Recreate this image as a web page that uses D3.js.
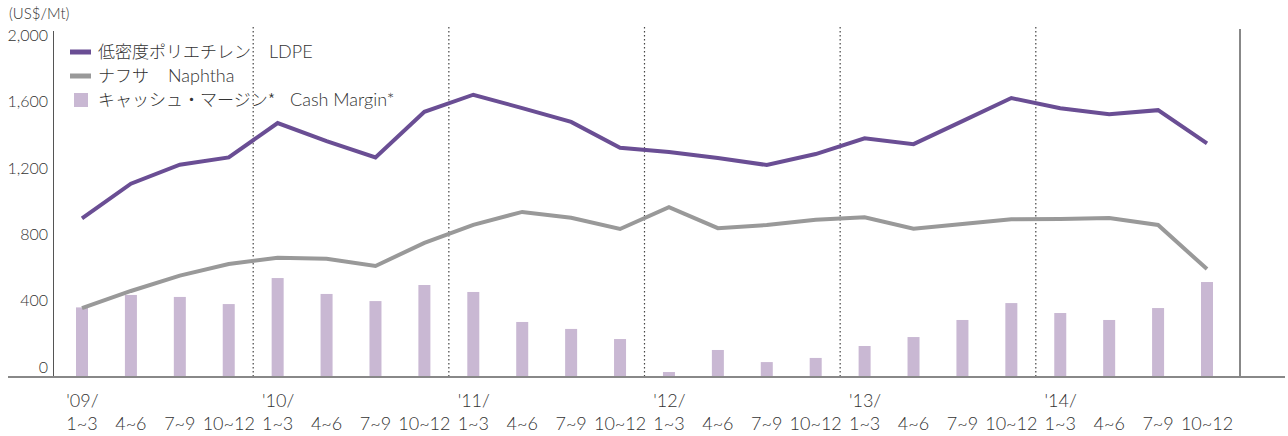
<!DOCTYPE html>
<html>
<head>
<meta charset="utf-8">
<script src="https://cdn.jsdelivr.net/npm/d3@7"></script>
<style>
  body { margin: 0; background: #fff; }
  svg { display: block; }
  text { font-weight: 300; }
</style>
</head>
<body>
<div id="chart"></div>
<script>
"use strict";

// Data
var years = ["'09/", "'10/", "'11/", "'12/", "'13/", "'14/"];
var quarters = ["1~3", "4~6", "7~9", "10~12"];
var ldpe = [957, 1166, 1281, 1325, 1532, 1423, 1325, 1600, 1703, 1622, 1539, 1383,
            1357, 1321, 1279, 1345, 1440, 1405, 1544, 1683, 1622, 1586, 1610, 1410];
var naphtha = [415, 519, 612, 682, 720, 713, 670, 809, 918, 996, 961, 893,
               1024, 898, 917, 949, 964, 894, 923, 952, 953, 959, 917, 651];
var margin = [420, 495, 483, 440, 597, 501, 458, 555, 513, 332, 290, 229,
              30, 163, 90, 115, 187, 241, 344, 446, 386, 344, 416, 573];
var yTicks = [0, 400, 800, 1200, 1600, 2000];

var ldpeColor = "#6a4e94";
var naphthaColor = "#999999";
var marginColor = "#c9b8d3";
var textColor = "#333";
var font = "Lato, 'Noto Sans CJK JP', sans-serif";
var jpFont = "'Noto Sans CJK JP', sans-serif";

// categories: one per quarter
var cats = [];
years.forEach(function(y, yi) {
  quarters.forEach(function(q, qi) { cats.push(yi * 4 + qi); });
});

let svg = d3.select("#chart").append("svg")
  .attr("width", 1288)
  .attr("height", 436);

var x = d3.scalePoint().domain(cats).range([82, 1207]);
var y = d3.scaleLinear().domain([0, 2000]).range([377, 45.5]);
var step = x.step();

// Bars
svg.append("g").selectAll("rect")
  .data(margin)
  .enter().append("rect")
  .attr("x", function(d, i) { return x(i) - 6; })
  .attr("y", function(d) { return y(d); })
  .attr("width", 12)
  .attr("height", function(d) { return y(0) - y(d); })
  .style("fill", marginColor);

// Dotted year separators
svg.append("g").selectAll("line")
  .data([4, 8, 12, 16, 20])
  .enter().append("line")
  .attr("x1", function(d) { return x(d) - step / 2; })
  .attr("x2", function(d) { return x(d) - step / 2; })
  .attr("y1", 27)
  .attr("y2", 377)
  .attr("stroke", "#444")
  .attr("stroke-width", 1.2)
  .attr("stroke-dasharray", "1.5,2.5");

// Lines
var line = d3.line()
  .x(function(d, i) { return x(i); })
  .y(function(d) { return y(d); });

svg.append("path")
  .datum(naphtha)
  .attr("d", line)
  .attr("fill", "none")
  .attr("stroke", naphthaColor)
  .attr("stroke-width", 4)
  .attr("stroke-linejoin", "miter");

svg.append("path")
  .datum(ldpe)
  .attr("d", line)
  .attr("fill", "none")
  .attr("stroke", ldpeColor)
  .attr("stroke-width", 4)
  .attr("stroke-linejoin", "miter");

// Axis lines
svg.append("line")
  .attr("x1", 53.5).attr("x2", 53.5)
  .attr("y1", 31).attr("y2", 377)
  .attr("stroke", "#555")
  .attr("stroke-width", 1);

svg.append("line")
  .attr("x1", 1240).attr("x2", 1240)
  .attr("y1", 29).attr("y2", 377)
  .attr("stroke", "#888")
  .attr("stroke-width", 2);

svg.append("line")
  .attr("x1", 8).attr("x2", 1285)
  .attr("y1", 377).attr("y2", 377)
  .attr("stroke", "#888")
  .attr("stroke-width", 2);

// Y tick labels (sit just above their value)
let yAxis = svg.append("g")
  .attr("transform", "translate(48,-10)")
  .call(d3.axisLeft(y).tickValues(yTicks).tickSize(0).tickPadding(0)
    .tickFormat(d3.format(",")));
yAxis.select(".domain").remove();
yAxis.selectAll("text")
  .attr("font-family", font)
  .attr("font-size", "16px")
  .attr("fill", textColor);

// Unit
svg.append("text")
  .attr("x", 9)
  .attr("y", 19)
  .text("(US$/Mt)")
  .attr("font-family", font)
  .attr("font-size", "15px")
  .attr("fill", textColor);

// X labels
let xg = svg.append("g");
cats.forEach(function(c) {
  let q = xg.append("text")
    .attr("x", x(c))
    .attr("y", 430)
    .attr("text-anchor", "middle")
    .text(quarters[c % 4])
    .attr("font-family", font)
    .attr("font-size", "18px")
    .attr("fill", textColor);
  if (c % 4 == 0) {
    let w = q.node().getComputedTextLength();
    xg.append("text")
      .attr("x", x(c) - w / 2)
      .attr("y", 407)
      .text(years[c / 4])
      .attr("font-family", font)
      .attr("font-size", "18px")
      .attr("fill", textColor);
  }
});

// Legend
var legend = [
  { jp: "低密度ポリエチレン", en: "LDPE", color: ldpeColor, type: "line", enX: 269 },
  { jp: "ナフサ", en: "Naphtha", color: naphthaColor, type: "line", enX: 168 },
  { jp: "キャッシュ・マージン*", en: "Cash Margin*", color: marginColor, type: "box", enX: 290 }
];
legend.forEach(function(l, i) {
  let cy = 52 + i * 24;
  if (l.type == "line") {
    svg.append("rect")
      .attr("x", 70).attr("y", cy - 2.5)
      .attr("width", 21).attr("height", 5)
      .style("fill", l.color);
  } else {
    svg.append("rect")
      .attr("x", 74).attr("y", cy - 7)
      .attr("width", 14).attr("height", 14)
      .style("fill", l.color);
  }
  svg.append("text")
    .attr("x", 98)
    .attr("y", cy + 6)
    .text(l.jp)
    .attr("font-family", jpFont)
    .attr("font-size", "17px")
    .attr("fill", textColor);
  svg.append("text")
    .attr("x", l.enX)
    .attr("y", cy + 6)
    .text(l.en)
    .attr("font-family", font)
    .attr("font-size", "18px")
    .attr("fill", textColor);
});
</script>
</body>
</html>
